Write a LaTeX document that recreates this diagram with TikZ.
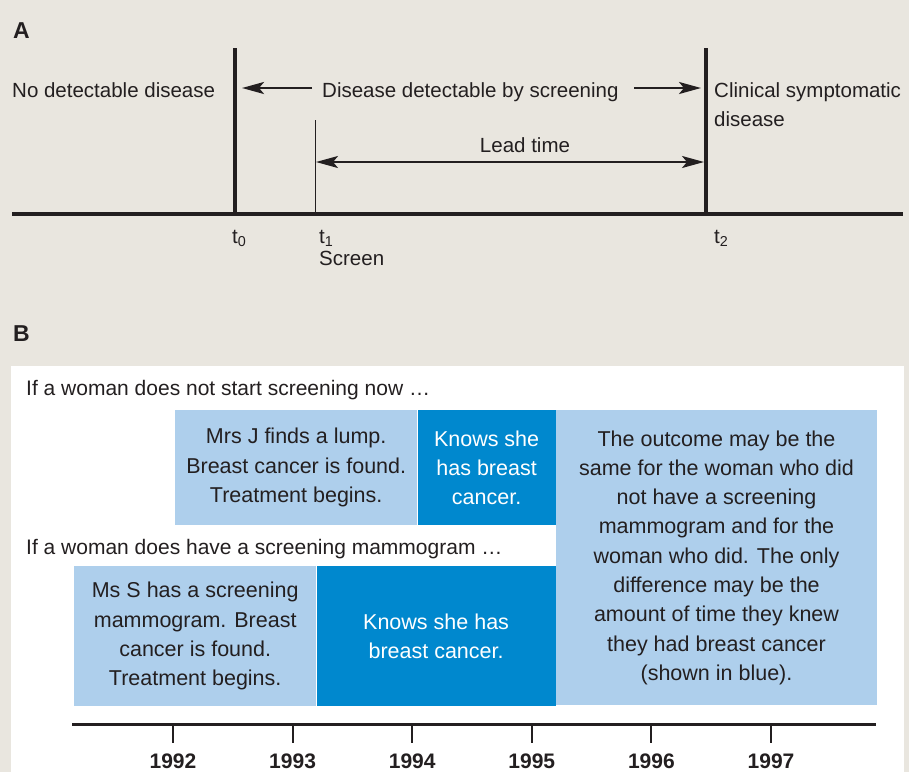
\documentclass[tikz,border=0pt]{standalone}
\usepackage{fontspec}
\setmainfont{Liberation Sans}
\usepackage{xcolor}
\usepackage{tikz}
\usetikzlibrary{arrows.meta, positioning, calc}
\definecolor{screenbg}{HTML}{E9E6DF}
\definecolor{screenink}{HTML}{231F20}
\definecolor{screenlight}{HTML}{AECFEC}
\definecolor{screendark}{HTML}{0088CE}
\tikzset{
  lbl/.style={font=\fontsize{20.5}{29.5}\selectfont, text=screenink, inner sep=0pt},
  panel/.style={font=\fontsize{23}{27}\selectfont\bfseries, text=screenink, inner sep=0pt},
  bar/.style={line width=3.5pt, draw=screenink},
  flow/.style={-{Stealth[length=22pt, width=12pt, inset=5pt]}, line width=2.5pt, draw=screenink},
  twoflow/.style={{Stealth[length=22pt, width=12pt, inset=5pt]}-{Stealth[length=22pt, width=12pt, inset=5pt]},
                  line width=2pt, draw=screenink},
  head/.style={font=\fontsize{21}{29}\selectfont, text=screenink, inner sep=0pt, anchor=base west},
  lightbox/.style={fill=screenlight, text=screenink, align=center, inner sep=0pt,
                   anchor=north west, font=\fontsize{21.5}{29.3}\selectfont},
  darkbox/.style={lightbox, fill=screendark, text=white},
  yearlbl/.style={font=\fontsize{21}{25}\selectfont\bfseries, text=screenink, inner sep=0pt, anchor=base},
}
\begin{document}
\begin{tikzpicture}[x=1pt, y=-1pt]
  \fill[screenbg] (0,0) rectangle (909,772);
  \useasboundingbox (0,0) rectangle (909,772);
  \fill[white] (11,366) rectangle (904,772);

  % A: lead time on a time line
  \node[panel, anchor=base west] (pa) at (13,38) {A};
  \coordinate (axl) at (12,214);
  \coordinate (axr) at (903,214);
  \coordinate (t0) at (235,214);
  \coordinate (t1) at (315,214);
  \coordinate (t2) at (706,214);
  \draw[bar] (axl) -- (axr);
  \draw[bar] (t0) -- ++(0,-166) coordinate (t0top);
  \draw[bar] (t2) -- ++(0,-166) coordinate (t2top);
  \draw[line width=1pt, draw=screenink] (t1) -- ++(0,-94) coordinate (t1top);

  \node[lbl, anchor=base west] (nodet) at (12,97) {No detectable disease};
  \node[lbl, anchor=base west] (detect) at (322,97) {Disease detectable by screening};
  \node[lbl, anchor=north west, align=left] (clin) at (714,82) {Clinical symptomatic\\disease};
  \coordinate (back0) at (312,88);
  \coordinate (tip0) at (242,88);
  \coordinate (back2) at (634,88);
  \coordinate (tip2) at (701,88);
  \draw[flow] (back0) -- (tip0);
  \draw[flow] (back2) -- (tip2);

  \node[lbl, anchor=base] (lead) at (525,152) {Lead time};
  \coordinate (leadl) at (316,162);
  \coordinate (leadr) at (704,162);
  \draw[twoflow] (leadl) -- (leadr);

  \node[lbl, anchor=base west] (lt0) at (232,243) {t\textsubscript{0}};
  \node[lbl, anchor=base west] (lt1) at (319,243) {t\textsubscript{1}};
  \node[lbl, anchor=base west] (scr) at (319,265) {Screen};
  \node[lbl, anchor=base west] (lt2) at (714,243) {t\textsubscript{2}};

  % B: two women, same outcome
  \node[panel, anchor=base west] (pb) at (13,341) {B};
  \node[head] (nohead) at (26,395) {If a woman does not start screening now …};
  \node[lightbox, minimum width=242pt, minimum height=115pt] (mrsj) at (175,410)
    {Mrs J finds a lump.\\Breast cancer is found.\\Treatment begins.};
  \node[darkbox, minimum width=138pt, minimum height=115pt] (knowsj) at (mrsj.north east)
    {Knows she\\has breast\\cancer.};
  \node[lightbox, minimum width=321pt, minimum height=295pt] (outcome) at (knowsj.north east)
    {The outcome may be the\\same for the woman who did\\not have a screening\\mammogram and for the\\
     woman who did. The only\\difference may be the\\amount of time they knew\\they had breast cancer\\
     (shown in blue).};

  \node[head] (yeshead) at (26,554) {If a woman does have a screening mammogram …};
  \node[lightbox, minimum width=242pt, minimum height=140pt] (mss) at (74,566)
    {Ms S has a screening\\mammogram. Breast\\cancer is found.\\Treatment begins.};
  \node[darkbox, minimum width=239pt, minimum height=140pt] (knowss) at (mss.north east)
    {Knows she has\\breast cancer.};

  % years
  \coordinate (yl) at (72,724);
  \coordinate (yr) at (876,724);
  \draw[line width=3pt, draw=screenink] (yl) -- (yr);
  \foreach \yr [count=\i from 0] in {1992,...,1997} {
    \coordinate (tick\yr) at ({173+119.6*\i},724);
    \draw[line width=2pt, draw=screenink] (tick\yr) -- ++(0,19);
    \node[yearlbl] (y\yr) at ({173+119.6*\i},768) {\yr};
  }
\end{tikzpicture}
\end{document}
